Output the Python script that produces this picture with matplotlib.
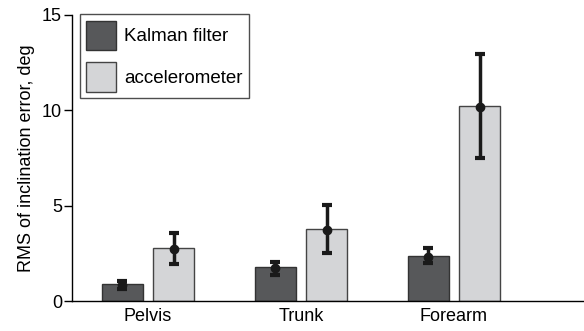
import matplotlib
matplotlib.use('Agg')
import matplotlib.pyplot as plt
import numpy as np

plt.rcParams['font.family'] = ['Liberation Sans', 'DejaVu Sans']

segments = ['Pelvis', 'Trunk', 'Forearm']
series = ['Kalman filter', 'accelerometer']

# bar heights
kalman_bar = [0.91, 1.78, 2.38]
accel_bar = [2.76, 3.78, 10.23]
# mean markers with error bar ends
kalman_mean = [0.84, 1.75, 2.32]
kalman_low = [0.65, 1.38, 1.98]
kalman_high = [1.05, 2.03, 2.76]
accel_mean = [2.71, 3.72, 10.19]
accel_low = [1.94, 2.53, 7.51]
accel_high = [3.55, 5.03, 12.95]

fig = plt.figure(figsize=(5.84, 3.31), dpi=100)
ax = fig.add_axes([0.123, 0.0906, 0.877, 0.8641])

x = np.arange(len(segments))
w = 0.268
off = 0.168

colors = ['#57585a', '#d4d5d7']
ax.bar(x - off, kalman_bar, width=w, color=colors[0], edgecolor='#333333',
       linewidth=1.0, label=series[0], zorder=2)
ax.bar(x + off, accel_bar, width=w, color=colors[1], edgecolor='#444444',
       linewidth=1.0, label=series[1], zorder=2)

for pos, m, lo, hi in [(x - off, kalman_mean, kalman_low, kalman_high),
                       (x + off, accel_mean, accel_low, accel_high)]:
    m = np.array(m)
    yerr = [m - np.array(lo), np.array(hi) - m]
    ax.errorbar(pos, m, yerr=yerr, fmt='o', color='#1a1a1a', markersize=6,
                elinewidth=2.5, capsize=3.3, capthick=3, zorder=3)

ax.set_xlim(-0.497, 2.85)
ax.set_ylim(0, 15)
ax.set_yticks([0, 5, 10, 15])
ax.set_xticks(x)
ax.set_xticklabels(segments, fontsize=13)
ax.tick_params(axis='x', length=0, pad=5)
ax.tick_params(axis='y', labelsize=13, length=6, width=1, pad=1)
ax.set_ylabel('RMS of inclination error, deg', fontsize=13, labelpad=5)

for s in ['top', 'right']:
    ax.spines[s].set_visible(False)
for s in ['left', 'bottom']:
    ax.spines[s].set_linewidth(1.0)

leg = ax.legend(loc='upper left', bbox_to_anchor=(0.0157, 1.0035), fontsize=13.5,
                fancybox=False, edgecolor='#222222', handlelength=1.6,
                handleheight=2.08, borderpad=0.35, labelspacing=0.6,
                handletextpad=0.4, borderaxespad=0)
leg.get_frame().set_linewidth(1.0)

fig.savefig('out.png', dpi=100)
